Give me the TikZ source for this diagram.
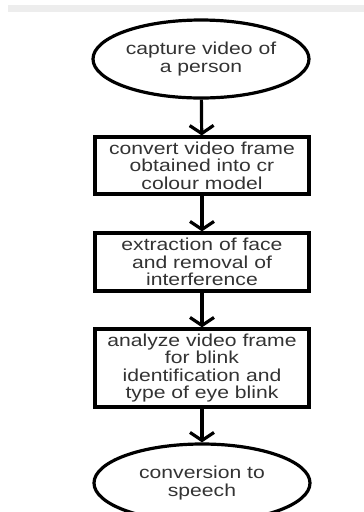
\documentclass[tikz,border=0pt]{standalone}
\usepackage{fontspec}
\setmainfont[FakeStretch=1.22]{Liberation Sans}
\usetikzlibrary{shapes,%
	arrows.meta,%
	positioning%
}

\begin{document}
\begin{tikzpicture}[x=0.75pt, y=-0.75pt,
	font=\fontsize{13}{13.2}\selectfont, text=black!80]
	\clip (0,0) rectangle (364,512);
	\fill[black!7] (8,5) rectangle (364,12);
	\begin{scope}[every node/.style={ellipse, draw, align=center, line width=2.4pt,
		inner sep=0pt, minimum width=162pt, minimum height=58.5pt}]
	\node (CA) at (201,59) {capture video of\\a person};
	\node (SP) at (202,483) {conversion to\\speech};
	\end{scope}
	
	\begin{scope}[every node/.style={rectangle, draw, align=center, line width=2.4pt,
		inner sep=0pt, minimum width=160.5pt}]
	\node[minimum height=42.75pt] (CO) at (202,165.5) {convert video frame\\obtained into cr\\colour model};
	\node[minimum height=43.5pt] (EX) at (202,262) {extraction of face\\and removal of\\interference};
	\node[minimum height=58.5pt] (AN) at (202,368) {analyze video frame\\for blink\\identification and\\type of eye blink};
	\end{scope}
	\begin{scope}[every path/.style={draw=black, line width=2.4pt}]
	\path [-{Straight Barb[width=18pt, length=6pt]}] (CA) -- (CO);
	\path [-{Straight Barb[width=18pt, length=6pt]}] (CO) -- (EX);
	\path [-{Straight Barb[width=18pt, length=6pt]}] (EX) -- (AN);
	\path [-{Straight Barb[width=18pt, length=6pt]}] (AN) -- (SP);
	\end{scope}
\end{tikzpicture}
\end{document}
